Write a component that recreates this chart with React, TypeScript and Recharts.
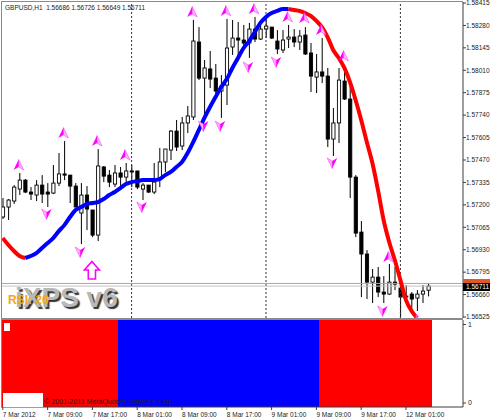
// GBPUSD H1 candlestick chart with the iXPS indicator

import React from "react";
import { ComposedChart, Bar, Line, XAxis, YAxis, ReferenceLine } from "recharts";

const openPrices = [
  1.57127, 1.57187, 1.57223, 1.57295, 1.57349, 1.57277, 1.57259, 1.57319, 1.57277, 1.57271, 1.57331,
  1.57386, 1.57379, 1.57313, 1.57151, 1.57259, 1.57169, 1.57018, 1.57428, 1.57379, 1.57325, 1.57392,
  1.57367, 1.57404, 1.57404, 1.57295, 1.57319, 1.57277, 1.57361, 1.57458, 1.5753, 1.57644, 1.57554,
  1.57693, 1.57729, 1.5818, 1.57963, 1.58018, 1.57963, 1.57885, 1.57921, 1.5815, 1.58204, 1.58192,
  1.58174, 1.58258, 1.58198, 1.58258, 1.5827, 1.58186, 1.58132, 1.58198, 1.5821, 1.5818, 1.58222,
  1.58114, 1.57969, 1.58, 1.57975, 1.57596, 1.57693, 1.57945, 1.57837, 1.57367, 1.57036, 1.56904,
  1.56735, 1.56765, 1.56675, 1.56663, 1.56735, 1.56699, 1.56645, 1.56663, 1.56639, 1.56663, 1.56686,
];
const highPrices = [
  1.57241, 1.57235, 1.57319, 1.57392, 1.57355, 1.57307, 1.57349, 1.57379, 1.57331, 1.5744, 1.57512,
  1.57584, 1.57379, 1.57331, 1.57331, 1.57313, 1.57169, 1.57536, 1.57434, 1.5741, 1.5744, 1.57428,
  1.57452, 1.5744, 1.57404, 1.57331, 1.57319, 1.57452, 1.57542, 1.57536, 1.5765, 1.57711, 1.57729,
  1.57795, 1.58313, 1.5827, 1.58072, 1.58126, 1.58048, 1.57981, 1.58319, 1.58313, 1.58301, 1.58283,
  1.58295, 1.58331, 1.58295, 1.58325, 1.5827, 1.58252, 1.58252, 1.58283, 1.58258, 1.58252, 1.5827,
  1.58174, 1.58108, 1.58204, 1.58024, 1.57783, 1.58024, 1.58024, 1.57921, 1.57379, 1.57103, 1.56928,
  1.56814, 1.56826, 1.56771, 1.56844, 1.56826, 1.56717, 1.56717, 1.56675, 1.56687, 1.56717, 1.56726,
];
const lowPrices = [
  1.57115, 1.57109, 1.57205, 1.57259, 1.57271, 1.57229, 1.57223, 1.57211, 1.57187, 1.57265, 1.57313,
  1.57349, 1.57211, 1.57187, 1.56964, 1.57048, 1.57006, 1.56982, 1.57337, 1.57307, 1.57307, 1.57307,
  1.57331, 1.57307, 1.57295, 1.57229, 1.57271, 1.57265, 1.57307, 1.57398, 1.5747, 1.57524, 1.5753,
  1.57632, 1.57711, 1.57951, 1.57729, 1.57903, 1.57849, 1.57723, 1.57801, 1.58102, 1.58102, 1.58132,
  1.58084, 1.5818, 1.58192, 1.58204, 1.58198, 1.58108, 1.58114, 1.58144, 1.5815, 1.58132, 1.58102,
  1.57879, 1.57873, 1.57933, 1.57548, 1.57494, 1.57572, 1.57831, 1.57241, 1.57006, 1.56645, 1.56633,
  1.56609, 1.56645, 1.56609, 1.56657, 1.56687, 1.56525, 1.56639, 1.56579, 1.56561, 1.56609, 1.56649,
];
const closePrices = [
  1.57187, 1.57229, 1.57307, 1.57349, 1.57277, 1.57265, 1.57319, 1.57265, 1.57265, 1.57331, 1.57386,
  1.57379, 1.57313, 1.57187, 1.57259, 1.57175, 1.57018, 1.57434, 1.57373, 1.57337, 1.57392, 1.57367,
  1.57404, 1.57398, 1.57307, 1.57319, 1.57277, 1.57337, 1.57458, 1.57536, 1.57644, 1.57548, 1.57693,
  1.57735, 1.58186, 1.57963, 1.58024, 1.57957, 1.57885, 1.57915, 1.58144, 1.58204, 1.58192, 1.58174,
  1.58258, 1.58198, 1.58258, 1.58276, 1.58204, 1.58138, 1.58192, 1.5821, 1.5818, 1.58216, 1.58108,
  1.57975, 1.58, 1.57975, 1.57596, 1.57693, 1.57951, 1.57837, 1.57367, 1.5703, 1.56904, 1.56735,
  1.56765, 1.56675, 1.56663, 1.56735, 1.56723, 1.56645, 1.56651, 1.56633, 1.56663, 1.56681, 1.56711,
];

// smoothed trend line, drawn red while falling and blue while rising
const trendLine = [
  1.57, 1.56958, 1.56922, 1.56892, 1.5688, 1.56892, 1.5691, 1.5694, 1.5697, 1.57, 1.57042,
  1.57078, 1.57127, 1.57169, 1.57187, 1.57205, 1.57211, 1.57217, 1.57235, 1.57259, 1.57277, 1.57301,
  1.57325, 1.57337, 1.57343, 1.57349, 1.57349, 1.57349, 1.57355, 1.57379, 1.57398, 1.57428, 1.57458,
  1.57512, 1.57578, 1.5765, 1.57723, 1.57789, 1.57849, 1.57909, 1.57957, 1.58024, 1.58084, 1.58144,
  1.58186, 1.5824, 1.58295, 1.58331, 1.58355, 1.58367, 1.58379, 1.58379, 1.58373, 1.58367, 1.58355,
  1.58337, 1.58307, 1.5827, 1.5821, 1.58132, 1.58084, 1.58024, 1.57939, 1.57831, 1.57711, 1.57578,
  1.57452, 1.57289, 1.57109, 1.56976, 1.56868, 1.56747, 1.56627, 1.56561, 1.56519,
];
const blueFrom = 4;
const blueTo = 51;

const upArrowBars = [3, 11, 17, 22, 34, 40, 45, 51, 54, 57, 61, 69, 74];
const upArrowPrices = [
  1.5744, 1.57632, 1.57584, 1.575, 1.58361, 1.58367, 1.58379, 1.58331, 1.58325, 1.58252, 1.58096, 1.56886, 1.56507,
];
const downArrowBars = [8, 14, 25, 36, 39, 44, 49, 59, 68];
const downArrowPrices = [1.57145, 1.56916, 1.57187, 1.57674, 1.57674, 1.5803, 1.5806, 1.57452, 1.56561];
const buySignalBar = 16;
const buySignalPrice = 1.56808;

// lower pane: 1 paints red, 0 paints blue
const paneSignal = [
  1, 1, 1, 1, 1, 1, 1, 1, 1, 1, 1, 1, 1, 1, 1, 1, 1, 1, 1, 1, 1,
  0, 0, 0, 0, 0, 0, 0, 0, 0, 0, 0, 0, 0, 0, 0, 0, 0, 0, 0, 0, 0, 0, 0, 0, 0, 0, 0, 0, 0, 0, 0, 0, 0, 0, 0, 0,
  1, 1, 1, 1, 1, 1, 1, 1, 1, 1, 1, 1, 1, 1, 1, 1, 1, 1, 1, 1,
];

const priceTicks = [
  1.58415, 1.5828, 1.58145, 1.5801, 1.57875, 1.5774, 1.57605, 1.5747, 1.57335, 1.572, 1.57065, 1.5693,
  1.56795, 1.5666, 1.56525,
];
const timeTickBars = [0, 8, 16, 24, 32, 40, 48, 56, 64, 72];
const timeTickLabels = [
  "7 Mar 2012", "7 Mar 09:00", "7 Mar 17:00", "8 Mar 01:00", "8 Mar 09:00", "8 Mar 17:00",
  "9 Mar 01:00", "9 Mar 09:00", "9 Mar 17:00", "12 Mar 01:00",
];
const daySeparatorBars = [23, 47, 71];
const bidPrice = 1.56711;
const askPrice = 1.56727;

const rows = openPrices.map((open, idx) => {
  const ma = idx < trendLine.length ? trendLine[idx] : null;
  const upAt = upArrowBars.indexOf(idx);
  const downAt = downArrowBars.indexOf(idx);
  return {
    idx,
    open,
    high: highPrices[idx],
    low: lowPrices[idx],
    close: closePrices[idx],
    red: idx <= blueFrom || idx >= blueTo ? ma : null,
    blue: idx >= blueFrom && idx <= blueTo ? ma : null,
    arrowUp: upAt >= 0 ? upArrowPrices[upAt] : null,
    arrowDown: downAt >= 0 ? downArrowPrices[downAt] : null,
    buy: idx === buySignalBar ? buySignalPrice : null,
    signal: paneSignal[idx],
  };
});

const FONT = "'Liberation Sans', Arial, sans-serif";
const AXIS_COLOR = "#3c3c3c";
const PLOT_RIGHT_PAD = 31.8;

// Candle drawn from the low-high range the bar gets from the scale
function Candle({ x, y, width, height, payload }: any) {
  const perUnit = height / (payload.high - payload.low);
  const yOf = (p: number) => y + (payload.high - p) * perUnit;
  const cx = x + width / 2;
  const top = yOf(Math.max(payload.open, payload.close));
  const bottom = yOf(Math.min(payload.open, payload.close));
  const isUp = payload.close >= payload.open;
  return (
    <g>
      <line x1={cx} x2={cx} y1={y} y2={y + height} stroke="#000" strokeWidth={1} />
      <rect
        x={cx - 1.6}
        y={top}
        width={3.2}
        height={Math.max(bottom - top, 0.6)}
        fill={isUp ? "#fff" : "#000"}
        stroke="#000"
        strokeWidth={0.9}
      />
    </g>
  );
}

// Navigation style arrow, flip = -1 points it down
function arrowDot(flip: number) {
  return ({ cx, cy, key }: any) => {
    if (cy == null || cx == null) return <g key={key} />;
    const px = cx - 1;
    const p = (dx: number, dy: number) => `${px + dx * flip},${cy + dy * flip}`;
    return (
      <g key={key}>
        <polygon points={[p(0, -5.5), p(5, 5), p(0, 2)].join(" ")} fill="#ffb4ff" stroke="#ff40ff" strokeWidth={0.6} />
        <polygon points={[p(0, -5.5), p(-5, 5), p(0, 2)].join(" ")} fill="#ff00ff" />
      </g>
    );
  };
}

function buyDot({ cx, cy, key }: any) {
  if (cy == null || cx == null) return <g key={key} />;
  const px = cx - 0.5;
  const points = [
    [0, -8.5], [7.5, 0], [3.6, 0], [3.6, 9], [-3.6, 9], [-3.6, 0], [-7.5, 0],
  ]
    .map(([dx, dy]) => `${px + dx},${cy + dy}`)
    .join(" ");
  return <polygon key={key} points={points} fill="#fff" stroke="#ff00ff" strokeWidth={1.6} />;
}

function PaneBand({ x, y, width, height, payload }: any) {
  return (
    <rect
      x={x}
      y={y}
      width={width}
      height={height}
      fill={payload.signal === 1 ? "#ff0000" : "#0000ff"}
      shapeRendering="crispEdges"
    />
  );
}

function TimeTick({ x, y, payload }: any) {
  return (
    <text x={x} y={y + 5} fontSize={6.5} fontFamily={FONT} fill="#222" textAnchor="start">
      {timeTickLabels[timeTickBars.indexOf(payload.value)]}
    </text>
  );
}

const box = (left: number, top: number, width: number, height: number, background: string): React.CSSProperties => ({
  position: "absolute",
  left,
  top,
  width,
  height,
  background,
});

export default function App() {
  return (
    <div style={{ position: "absolute", left: 0, top: 0, width: 490, height: 420, background: "#fff", overflow: "hidden" }}>
      {/* Price pane */}
      <div style={{ position: "absolute", left: 0, top: 0 }}>
        <ComposedChart width={490} height={320} data={rows} margin={{ top: 2, right: 0, bottom: 2, left: 0 }} barCategoryGap={0}>
          <XAxis dataKey="idx" hide padding={{ left: 0, right: PLOT_RIGHT_PAD }} />
          <YAxis
            orientation="right"
            width={27}
            domain={[1.56519, 1.58421]}
            allowDataOverflow
            ticks={priceTicks}
            interval={0}
            tickSize={3}
            tickMargin={0}
            tick={{ fontSize: 6.5, fontFamily: FONT, fill: "#222" }}
            tickFormatter={(v: number) => v.toFixed(5)}
            stroke={AXIS_COLOR}
          />
          {daySeparatorBars.map((bar) => (
            <ReferenceLine key={bar} x={bar} stroke="#333" strokeDasharray="2 2" />
          ))}
          <ReferenceLine y={bidPrice} stroke="#c4c4c4" />
          <ReferenceLine y={askPrice} stroke="#ff8a60" />
          <Bar dataKey={(d: any) => [d.low, d.high]} shape={<Candle />} isAnimationActive={false} />
          <Line dataKey="arrowUp" stroke="none" dot={arrowDot(1)} activeDot={false} isAnimationActive={false} />
          <Line dataKey="arrowDown" stroke="none" dot={arrowDot(-1)} activeDot={false} isAnimationActive={false} />
          <Line dataKey="buy" stroke="none" dot={buyDot} activeDot={false} isAnimationActive={false} />
          <Line dataKey="red" type="monotone" stroke="#ff0000" strokeWidth={4} dot={false} activeDot={false} isAnimationActive={false} />
          <Line dataKey="blue" type="monotone" stroke="#0000ff" strokeWidth={4} dot={false} activeDot={false} isAnimationActive={false} />
        </ComposedChart>
      </div>

      {/* Signal pane */}
      <div style={{ position: "absolute", left: 0, top: 320 }}>
        <ComposedChart width={490} height={100} data={rows} margin={{ top: 0, right: 0, bottom: 0, left: 0 }} barCategoryGap={0}>
          <XAxis
            dataKey="idx"
            height={13}
            padding={{ left: 0, right: PLOT_RIGHT_PAD }}
            ticks={timeTickBars}
            interval={0}
            tickSize={3}
            tick={<TimeTick />}
            stroke={AXIS_COLOR}
          />
          <YAxis
            orientation="right"
            width={27}
            domain={[-0.051, 1.057]}
            ticks={[0, 1]}
            interval={0}
            tickSize={3}
            tickMargin={2}
            tick={{ fontSize: 7, fontFamily: FONT, fill: "#222" }}
            stroke={AXIS_COLOR}
          />
          <Bar dataKey={() => [-0.051, 1.057]} shape={<PaneBand />} isAnimationActive={false} />
        </ComposedChart>
      </div>

      {/* Terminal frame */}
      <div style={box(0, 0, 1, 408, "#fff")} />
      <div style={box(1, 1, 462, 1, "#8a8a8a")} />
      <div style={box(1, 1, 1, 406, "#8a8a8a")} />
      <div style={box(1, 318, 462, 2, "#8a8a8a")} />

      {/* Current price tags */}
      <div style={box(463, 279, 27, 5, "#e0582a")} />
      <div
        style={{
          ...box(463, 283, 27, 8, "#000"),
          color: "#fff",
          fontFamily: FONT,
          fontSize: 6.5,
          lineHeight: "8px",
          paddingLeft: 3,
          boxSizing: "border-box",
        }}
      >
        1.56711
      </div>

      {/* Chart texts */}
      <div style={{ position: "absolute", left: 5, top: 3, fontFamily: FONT, fontSize: 6.5, lineHeight: "9px", color: "#222", whiteSpace: "pre" }}>
        {"GBPUSD,H1  1.56686 1.56726 1.56649 1.56711"}
      </div>
      <div
        style={{
          position: "absolute",
          left: 15,
          top: 284,
          fontFamily: FONT,
          fontWeight: 700,
          fontSize: 28,
          lineHeight: "28px",
          color: "#b8b8b8",
          textShadow: "2px 2px 1px #333",
          whiteSpace: "pre",
        }}
      >
        iXPS v6
      </div>
      <div style={{ position: "absolute", left: 8, top: 294, fontFamily: FONT, fontWeight: 700, fontSize: 12, lineHeight: "13px", color: "#f0a818", whiteSpace: "pre" }}>
        RSI: 26
      </div>

      {/* Labels left over in the signal pane */}
      <div style={box(4, 323, 6, 8, "#fff")} />
      <div style={box(3, 393, 40, 14, "#fff")} />
      <div style={{ position: "absolute", left: 44, top: 398, fontFamily: FONT, fontSize: 7.1, lineHeight: "9px", color: "#221", whiteSpace: "pre" }}>
        © 2001-2011 MetaQuotes Software Corp.
      </div>
    </div>
  );
}
